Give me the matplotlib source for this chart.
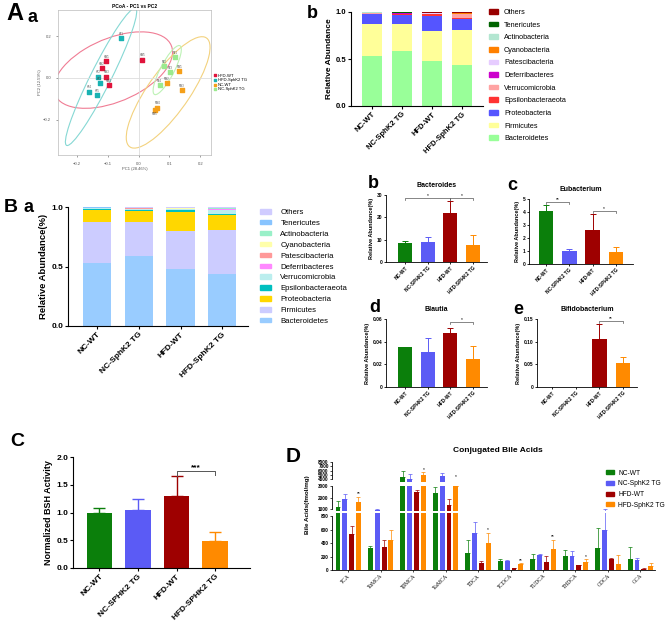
import numpy as np
import matplotlib
matplotlib.use("Agg")
import matplotlib.pyplot as plt
from matplotlib.patches import Ellipse, Patch

plt.rcParams["font.family"] = ["Liberation Sans", "DejaVu Sans"]
plt.rcParams["axes.linewidth"] = 0.8

# --- PCoA data (A a) ---
pcoa_groups = ["HFD-WT", "HFD-SphK2 TG", "NC-WT", "NC-SphK2 TG"]
pc1_hfd_wt = [-0.105, -0.119, -0.105, -0.097, 0.012]
pc2_hfd_wt = [0.079, 0.047, 0.006, -0.034, 0.087]
pc1_hfd_tg = [-0.057, -0.132, -0.127, -0.160, -0.135]
pc2_hfd_tg = [0.191, 0.006, -0.026, -0.066, -0.082]
pc1_nc_wt = [0.132, 0.092, 0.141, 0.061, 0.053]
pc2_nc_wt = [0.031, -0.026, -0.058, -0.143, -0.154]
pc1_nc_tg = [0.118, 0.083, 0.102, 0.068]
pc2_nc_tg = [0.100, 0.055, 0.027, -0.034]
ids_hfd_wt = ["HW1", "HW2", "HW3", "HW4", "HW5"]
ids_hfd_tg = ["HT1", "HT2", "HT3", "HT4", "HT5"]
ids_nc_wt = ["NW1", "NW2", "NW3", "NW4", "NW5"]
ids_nc_tg = ["NT1", "NT2", "NT3", "NT4"]

# --- phylum composition (A b / B a) ---
groups = ["NC-WT", "NC-SphK2 TG", "HFD-WT", "HFD-SphK2 TG"]
groups_caps = ["NC-WT", "NC-SPHK2 TG", "HFD-WT", "HFD-SPHK2 TG"]
phyla = ["Others", "Tenericutes", "Actinobacteria", "Cyanobacteria",
         "Patescibacteria", "Deferribacteres", "Verrucomicrobia",
         "Epsilonbacteraeota", "Proteobacteria", "Firmicutes", "Bacteroidetes"]
bacteroidetes = [0.53, 0.59, 0.48, 0.44]
firmicutes = [0.34, 0.28, 0.32, 0.37]
proteobacteria = [0.105, 0.10, 0.16, 0.12]
epsilon = [0.004, 0.005, 0.015, 0.01]
verruco = [0.010, 0.004, 0.005, 0.037]
deferri = [0.002, 0.008, 0.003, 0.002]
patesci = [0.002, 0.003, 0.004, 0.004]
cyano = [0.001, 0.002, 0.002, 0.003]
actino = [0.001, 0.002, 0.002, 0.003]
teneric = [0.001, 0.001, 0.002, 0.002]

# --- genus level (B b-e), % abundance ---
bacteroides = [8.7, 9.0, 21.8, 7.8]
bacteroides_err = [0.7, 2.2, 5.6, 4.5]
eubacterium = [4.1, 1.0, 2.65, 0.92]
eubacterium_err = [0.45, 0.15, 1.2, 0.42]
blautia = [0.035, 0.031, 0.048, 0.025]
blautia_err = [0.0, 0.012, 0.004, 0.011]
bifido = [0.0, 0.0, 0.105, 0.053]
bifido_err = [0.0, 0.0, 0.035, 0.014]

# --- BSH activity (C) ---
bsh = [1.0, 1.05, 1.29, 0.48]
bsh_err = [0.09, 0.19, 0.37, 0.17]

# --- conjugated bile acids (D), fmol/mg ---
bile_acids = ["TCA", "TαMCA", "TβMCA", "TωMCA", "TDCA", "TCDCA",
              "TUDCA", "THDCA", "GDCA", "GCA"]
ba_nc_wt = [1200, 330, 4500, 2400, 260, 130, 165, 205, 330, 165]
ba_nc_wt_err = [500, 30, 1500, 500, 180, 40, 80, 95, 300, 180]
ba_nc_tg = [1900, 950, 4200, 4700, 550, 140, 230, 205, 590, 155]
ba_nc_tg_err = [400, 100, 1100, 800, 160, 10, 10, 85, 400, 30]
ba_hfd_wt = [540, 340, 2500, 1400, 110, 25, 115, 70, 165, 20]
ba_hfd_wt_err = [110, 110, 200, 450, 20, 10, 100, 10, 10, 10]
ba_hfd_tg = [1600, 450, 5000, 3000, 400, 95, 320, 115, 90, 55]
ba_hfd_tg_err = [500, 140, 600, 0, 150, 10, 130, 45, 130, 50]
ba_sig_group = [0, 2, 3, 4, 5, 6, 7]
ba_sig_y = [2150, 5650, 4100, 560, 110, 460, 170]
ba_sig_text = ["**", "*", "*", "*", "**", "**", "*"]

group_colors = ["#0B7F0B", "#5B5BF5", "#9E0000", "#FF8A00"]
colors_ab = ["#990000", "#006400", "#B3E6D1", "#FF8000", "#E6CCFF", "#CC00CC",
             "#FFA3A3", "#FF3333", "#5555FF", "#FFFF99", "#99FF99"]
colors_ba = ["#D0CCFF", "#88C4FF", "#99F0C8", "#FFFFAA", "#FF9999", "#FF88FF",
             "#BBEEEE", "#00BFBF", "#FFD700", "#CCCCFF", "#99CCFF"]

W, H = 669, 626
fig = plt.figure(figsize=(W / 100, H / 100), dpi=100)


def add_ax(x0, y0, x1, y1):
    return fig.add_axes([x0 / W, 1 - y1 / H, (x1 - x0) / W, (y1 - y0) / H])


def ftext(x, y, s, **kw):
    fig.text(x / W, 1 - y / H, s, **kw)


def clean(ax):
    ax.spines["top"].set_visible(False)
    ax.spines["right"].set_visible(False)


def conf_ellipse(x, y, k, color):
    cov = np.cov(x, y)
    vals, vecs = np.linalg.eigh(cov)
    ang = np.degrees(np.arctan2(vecs[1, 1], vecs[0, 1]))
    return Ellipse((np.mean(x), np.mean(y)), 2 * k * np.sqrt(vals[1]),
                   2 * k * np.sqrt(vals[0]), angle=ang, fill=False,
                   edgecolor=color, lw=0.8)


# ---------------- A a: PCoA ----------------
ax = add_ax(58, 10, 211, 155)
pts = [(pc1_hfd_wt, pc2_hfd_wt, ids_hfd_wt), (pc1_hfd_tg, pc2_hfd_tg, ids_hfd_tg),
       (pc1_nc_wt, pc2_nc_wt, ids_nc_wt), (pc1_nc_tg, pc2_nc_tg, ids_nc_tg)]
pt_colors = ["#E0143C", "#19B2B2", "#F5A01A", "#9BEA8F"]
ell_colors = ["#F07C94", "#86D8D4", "#F3D27E", "#BDF2B5"]
ell_scale = [3.6, 3.0, 3.4, 2.1]
ax.axhline(0, color="#DDDDDD", lw=0.6)
ax.axvline(0, color="#DDDDDD", lw=0.6)
for (px, py, ids), c, ec, k, g in zip(pts, pt_colors, ell_colors, ell_scale, pcoa_groups):
    ax.add_patch(conf_ellipse(np.array(px), np.array(py), k, ec))
    ax.scatter(px, py, marker="s", s=5, color=c, label=g, zorder=3)
    for n, (xx, yy, t) in enumerate(zip(px, py, ids)):
        dy = -4.0 if (t == ids[-1] and g == "NC-WT") else 2.3
        ax.annotate(t, (xx, yy), xytext=(0, dy), textcoords="offset points",
                    fontsize=1.8, ha="center", color="#444444")
ax.set_xlim(-0.262, 0.235)
ax.set_ylim(-0.37, 0.325)
ax.set_xticks([-0.2, -0.1, 0.0, 0.1, 0.2])
ax.set_yticks([-0.2, 0.0, 0.2])
ax.tick_params(labelsize=3, length=1.5, width=0.4, colors="#555555")
for s in ax.spines.values():
    s.set_color("#BBBBBB")
    s.set_linewidth(0.5)
ax.set_title("PCoA - PC1 vs PC2", fontsize=3.5, fontweight="bold", pad=1.5)
ax.set_xlabel("PC1 (28.46%)", fontsize=3, labelpad=1, color="#555555")
ax.set_ylabel("PC2 (12.59%)", fontsize=3, labelpad=1, color="#555555")
ax.legend(loc="center left", bbox_to_anchor=(1.0, 0.5), fontsize=3,
          frameon=False, handlelength=0.8, handletextpad=0.3,
          labelspacing=0.15, borderaxespad=0.2, markerscale=0.8)


# ---------------- stacked composition ----------------
comp_bottom_up = [bacteroidetes, firmicutes, proteobacteria, epsilon, verruco,
                  deferri, patesci, cyano, actino, teneric]


def stacked(ax, colors, width, xlim, fs):
    x = np.arange(4)
    bottom = np.zeros(4)
    cols = colors[::-1]
    for vals, c in zip(comp_bottom_up, cols):
        ax.bar(x, vals, width, bottom=bottom, color=c, linewidth=0)
        bottom += np.array(vals)
    ax.bar(x, 1 - bottom, width, bottom=bottom, color=cols[-1], linewidth=0)
    ax.set_xlim(*xlim)
    ax.set_ylim(0, 1.0)
    ax.set_yticks([0, 0.5, 1.0])
    ax.set_yticklabels(["0.0", "0.5", "1.0"], fontweight="bold", fontsize=fs)
    ax.set_xticks(x)
    ax.set_xticklabels(groups, rotation=45, ha="right", rotation_mode="anchor",
                       fontweight="bold", fontsize=fs)
    ax.tick_params(length=2, width=0.8, pad=1.5)
    clean(ax)


ax = add_ax(351, 12, 483, 106)
stacked(ax, colors_ab, 0.66, (-0.7, 3.7), 5.5)
ax.set_ylabel("Relative Abundance", fontsize=6, fontweight="bold", labelpad=2)
fig.legend([Patch(color=c) for c in colors_ab], phyla, loc="upper left",
           bbox_to_anchor=(486 / W, 1 - 6 / H), fontsize=5.2, frameon=False,
           handlelength=1.3, handleheight=0.6, labelspacing=0.78,
           handletextpad=0.8, borderaxespad=0)

ax = add_ax(68, 207, 248, 326)
stacked(ax, colors_ba, 0.68, (-0.7, 3.62), 6)
ax.set_ylabel("Relative Abundance(%)", fontsize=6.8, fontweight="bold", labelpad=2)
fig.legend([Patch(color=c) for c in colors_ba], phyla, loc="upper left",
           bbox_to_anchor=(257 / W, 1 - 206 / H), fontsize=5.6, frameon=False,
           handlelength=1.4, handleheight=0.5, labelspacing=0.5,
           handletextpad=1.2, borderaxespad=0)


# ---------------- genus panels ----------------
def genus(ax, means, errs, xlim, ylim, yticks, ylabels, title, brackets,
          width=0.62, fs=3.5):
    x = np.arange(4)
    ax.bar(x, means, width, color=group_colors, linewidth=0)
    for i in range(4):
        if errs[i] > 0:
            ax.errorbar(x[i], means[i], yerr=[[0], [errs[i]]], color=group_colors[i],
                        capsize=2.2, lw=0.7, capthick=0.7)
    for i, j, h, lab in brackets:
        d = (ylim[1] - ylim[0]) * 0.03
        ax.plot([i, i, j, j], [h - d, h, h, h - d], color="#555555", lw=0.5,
                clip_on=False)
        ax.text((i + j) / 2, h, lab, ha="center", va="bottom", fontsize=3.5)
    ax.set_xlim(*xlim)
    ax.set_ylim(*ylim)
    ax.set_yticks(yticks)
    ax.set_yticklabels(ylabels, fontsize=fs, fontweight="bold")
    ax.set_xticks(x)
    ax.set_xticklabels(groups_caps, rotation=45, ha="right", rotation_mode="anchor",
                       fontsize=fs, fontweight="bold")
    ax.tick_params(length=1.5, width=0.6, pad=1)
    for s in ("left", "bottom"):
        ax.spines[s].set_linewidth(0.6)
    clean(ax)
    ax.set_ylabel("Relative Abundance(%)", fontsize=4, fontweight="bold", labelpad=2)
    ax.set_title(title, fontsize=5, fontweight="bold", pad=6)


ax = add_ax(386, 195, 487, 262)
genus(ax, bacteroides, bacteroides_err, (-0.84, 3.62), (0, 30), [0, 10, 20, 30],
      ["0", "10", "20", "30"], "Bacteroides", [(0, 2, 28.5, "*"), (2, 3, 28.5, "*")])
ax = add_ax(529, 199, 633, 264)
genus(ax, eubacterium, eubacterium_err, (-0.73, 3.73), (0, 5), [0, 1, 2, 3, 4, 5],
      ["0", "1", "2", "3", "4", "5"], "Eubacterium", [(0, 1, 4.8, "**"), (2, 3, 4.1, "*")])
ax = add_ax(386, 319, 487, 387)
genus(ax, blautia, blautia_err, (-0.84, 3.62), (0, 0.06), [0, 0.02, 0.04, 0.06],
      ["0", "0.02", "0.04", "0.06"], "Blautia", [(2, 3, 0.057, "*")])
ax = add_ax(537, 319, 637, 387)
genus(ax, bifido, bifido_err, (-0.64, 3.6), (0, 0.15), [0, 0.05, 0.10, 0.15],
      ["0", "0.05", "0.10", "0.15"], "Bifidobacterium", [(2, 3, 0.145, "**")])

# ---------------- C: BSH activity ----------------
ax = add_ax(73, 457, 250, 568)
xc = np.arange(4)
ax.bar(xc, bsh, 0.66, color=group_colors, linewidth=0)
for i in range(4):
    ax.errorbar(xc[i], bsh[i], yerr=[[0], [bsh_err[i]]], color=group_colors[i],
                capsize=4, lw=1, capthick=1)
ax.plot([2, 2, 3, 3], [bsh[2] + bsh_err[2], 1.75, 1.75, 1.68], color="#555555", lw=0.7)
ax.text(2.5, 1.75, "***", ha="center", va="bottom", fontsize=6, fontweight="bold")
ax.set_xlim(-0.68, 3.9)
ax.set_ylim(0, 2.0)
ax.set_yticks([0, 0.5, 1.0, 1.5, 2.0])
ax.set_yticklabels(["0.0", "0.5", "1.0", "1.5", "2.0"], fontsize=6, fontweight="bold")
ax.set_xticks(xc)
ax.set_xticklabels(groups_caps, rotation=45, ha="right", rotation_mode="anchor",
                   fontsize=6, fontweight="bold")
ax.tick_params(length=2, width=0.8, pad=1.5)
ax.set_ylabel("Normalized BSH Activity", fontsize=6.5, fontweight="bold", labelpad=2)
clean(ax)

# ---------------- D: conjugated bile acids (broken axis) ----------------
series = [(ba_nc_wt, ba_nc_wt_err), (ba_nc_tg, ba_nc_tg_err),
          (ba_hfd_wt, ba_hfd_wt_err), (ba_hfd_tg, ba_hfd_tg_err)]
xg = np.arange(len(bile_acids))
offs = [-0.315, -0.105, 0.105, 0.315]
ax_top = add_ax(332, 462, 655, 482)
ax_mid = add_ax(332, 486, 655, 510.5)
ax_bot = add_ax(332, 513, 655, 570)
segs = [(ax_top, (3400, 8000), [4000, 5000, 6000, 7000, 8000]),
        (ax_mid, (900, 3000), [1000, 2000, 3000]),
        (ax_bot, (0, 850), [0, 200, 400, 600, 800])]
for axd, yl, yt in segs:
    for k, (vals, errs) in enumerate(series):
        axd.bar(xg + offs[k], vals, 0.15, color=group_colors[k], linewidth=0,
                label=groups[k])
        axd.errorbar(xg + offs[k], vals, yerr=[np.zeros(len(vals)), errs],
                     fmt="none", ecolor=group_colors[k], capsize=1.2, lw=0.5,
                     capthick=0.5)
    axd.set_xlim(-0.5, 9.45)
    axd.set_ylim(*yl)
    axd.set_yticks(yt)
    axd.set_yticklabels([str(v) for v in yt], fontsize=3.4, fontweight="bold")
    axd.spines["left"].set_bounds(yt[0], yt[-1])
    axd.spines["left"].set_linewidth(0.6)
    axd.spines["bottom"].set_linewidth(0.6)
    axd.tick_params(length=1.5, width=0.5, pad=0.8)
    clean(axd)
    if axd is not ax_bot:
        axd.spines["bottom"].set_visible(False)
        axd.set_xticks([])
for gi, yy, lab in zip(ba_sig_group, ba_sig_y, ba_sig_text):
    axd = ax_top if yy > 3400 else (ax_mid if yy > 900 else ax_bot)
    axd.text(gi + offs[3], yy, lab, ha="center", va="bottom", fontsize=3.5)
ax_bot.set_xticks(xg)
ax_bot.set_xticklabels(bile_acids, rotation=45, ha="right", rotation_mode="anchor",
                       fontsize=4, family=["Liberation Serif", "DejaVu Serif"])
ftext(307, 505, "Bile Acids(fmol/mg)", rotation=90, fontsize=4.5, fontweight="bold",
      ha="center", va="center")
ftext(498, 450, "Conjugated Bile Acids", fontsize=6, fontweight="bold",
      ha="center", va="center")
fig.legend([Patch(color=c) for c in group_colors], groups, loc="upper left",
           bbox_to_anchor=(603 / W, 1 - 467 / H), fontsize=4.8, frameon=False,
           handlelength=1.3, handleheight=0.5, labelspacing=0.55,
           handletextpad=0.6, borderaxespad=0)

# ---------------- panel letters ----------------
ftext(15, 13, "A", fontsize=17, fontweight="bold", ha="center", va="center")
ftext(32, 17, "a", fontsize=13, fontweight="bold", ha="center", va="center")
ftext(312, 14, "b", fontsize=13, fontweight="bold", ha="center", va="center")
ftext(11, 207, "B", fontsize=14, fontweight="bold", ha="center", va="center")
ftext(29, 207, "a", fontsize=13, fontweight="bold", ha="center", va="center")
ftext(373, 183, "b", fontsize=13, fontweight="bold", ha="center", va="center")
ftext(512, 185, "c", fontsize=13, fontweight="bold", ha="center", va="center")
ftext(375, 307, "d", fontsize=13, fontweight="bold", ha="center", va="center")
ftext(518, 310, "e", fontsize=13, fontweight="bold", ha="center", va="center")
ftext(17, 442, "C", fontsize=14, fontweight="bold", ha="center", va="center")
ftext(293, 457, "D", fontsize=15, fontweight="bold", ha="center", va="center")

fig.savefig("out.png", dpi=100)
